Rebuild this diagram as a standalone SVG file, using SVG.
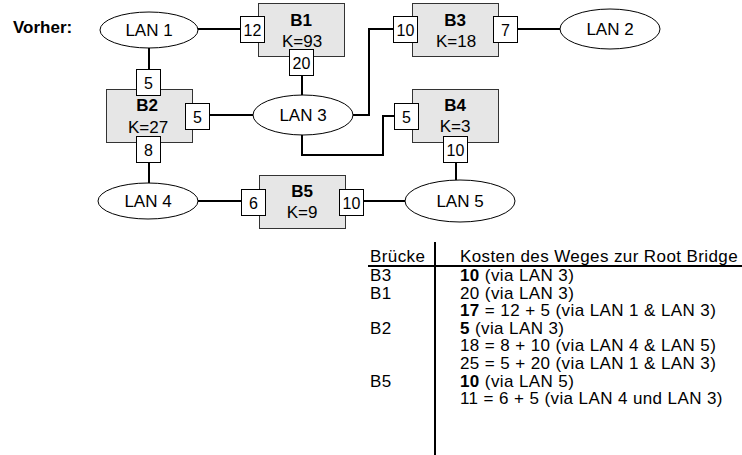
<svg xmlns="http://www.w3.org/2000/svg" width="742" height="455" viewBox="0 0 742 455">
<style>
text{font-family:"Liberation Sans",Arial,sans-serif;font-size:17px;fill:#000}
.b{font-weight:bold}
.c{text-anchor:middle}
.p{font-size:16px;text-anchor:middle}
.t{letter-spacing:0.4px}
.box{fill:#e6e6e6;stroke:#333;stroke-width:1}
.port{fill:#fff;stroke:#000;stroke-width:1}
.lan{fill:#fff;stroke:#000;stroke-width:1}
.w{fill:none;stroke:#000;stroke-width:2}
</style>
<rect width="742" height="455" fill="#fff"/>
<text class="b" x="13" y="33">Vorher:</text>
<g id="connectors">
<path class="w" d="M198,29H240"/>
<path class="w" d="M149,48V69"/>
<path class="w" d="M302,75V95"/>
<path class="w" d="M210,115H253"/>
<path class="w" d="M353,115H369V29H393"/>
<path class="w" d="M302,135V155H383V116H394"/>
<path class="w" d="M518,29H560"/>
<path class="w" d="M149,162V183"/>
<path class="w" d="M198,201H241"/>
<path class="w" d="M364,201H405"/>
<path class="w" d="M456,162V180"/>
</g>
<g id="lan1"><ellipse class="lan" cx="149" cy="30" rx="49" ry="18"/><text class="c" x="149" y="36">LAN 1</text></g>
<g id="lan2"><ellipse class="lan" cx="610" cy="29" rx="50" ry="20"/><text class="c" x="610" y="35">LAN 2</text></g>
<g id="lan3"><ellipse class="lan" cx="303" cy="115" rx="50" ry="20"/><text class="c" x="303" y="121">LAN 3</text></g>
<g id="lan4"><ellipse class="lan" cx="148" cy="201" rx="50" ry="18"/><text class="c" x="148" y="207">LAN 4</text></g>
<g id="lan5"><ellipse class="lan" cx="460" cy="201" rx="55" ry="21"/><text class="c" x="460" y="207">LAN 5</text></g>
<g id="b1">
<rect class="box" x="258.5" y="3.5" width="86" height="53"/>
<text class="b c" x="301" y="26">B1</text><text class="c" x="302" y="47">K=93</text>
<rect class="port" x="240.5" y="16.5" width="24" height="26"/><text class="p" x="252.5" y="36">12</text>
<rect class="port" x="289.5" y="49.5" width="24" height="26"/><text class="p" x="301.5" y="69">20</text>
</g>
<g id="b3">
<rect class="box" x="412.5" y="3.5" width="86" height="53"/>
<text class="b c" x="455" y="26">B3</text><text class="c" x="456" y="47">K=18</text>
<rect class="port" x="393.5" y="16.5" width="24" height="26"/><text class="p" x="405.5" y="36">10</text>
<rect class="port" x="493.5" y="16.5" width="24" height="26"/><text class="p" x="505.5" y="36">7</text>
</g>
<g id="b2">
<rect class="box" x="106.5" y="89.5" width="86" height="53"/>
<text class="b c" x="147" y="111">B2</text><text class="c" x="148" y="133">K=27</text>
<rect class="port" x="136.5" y="69.5" width="24" height="26"/><text class="p" x="148.5" y="89">5</text>
<rect class="port" x="185.5" y="103.5" width="24" height="26"/><text class="p" x="197.5" y="123">5</text>
<rect class="port" x="136.5" y="136.5" width="24" height="26"/><text class="p" x="148.5" y="156">8</text>
</g>
<g id="b4">
<rect class="box" x="412.5" y="89.5" width="86" height="53"/>
<text class="b c" x="455" y="111">B4</text><text class="c" x="455" y="132">K=3</text>
<rect class="port" x="394.5" y="103.5" width="24" height="26"/><text class="p" x="406.5" y="123">5</text>
<rect class="port" x="443.5" y="136.5" width="24" height="26"/><text class="p" x="455.5" y="156">10</text>
</g>
<g id="b5">
<rect class="box" x="259.5" y="175.5" width="86" height="53"/>
<text class="b c" x="302" y="197">B5</text><text class="c" x="302" y="218">K=9</text>
<rect class="port" x="241.5" y="189.5" width="24" height="26"/><text class="p" x="253.5" y="209">6</text>
<rect class="port" x="339.5" y="189.5" width="24" height="26"/><text class="p" x="351.5" y="209">10</text>
</g>
<g id="table">
<path class="w" d="M435,242V455M368,266H742"/>
<text class="t" x="370" y="262">Brücke</text>
<text class="t" x="460" y="262">Kosten des Weges zur Root Bridge</text>
<text class="t" x="370" y="281">B3</text>
<text class="t" x="460" y="281"><tspan class="b">10</tspan> (via LAN 3)</text>
<text class="t" x="370" y="298.6">B1</text>
<text class="t" x="460" y="298.6">20 (via LAN 3)</text>
<text class="t" x="460" y="316.2"><tspan class="b">17</tspan> = 12 + 5 (via LAN 1 &amp; LAN 3)</text>
<text class="t" x="370" y="333.8">B2</text>
<text class="t" x="460" y="333.8"><tspan class="b">5</tspan> (via LAN 3)</text>
<text class="t" x="460" y="351.4">18 = 8 + 10 (via LAN 4 &amp; LAN 5)</text>
<text class="t" x="460" y="369">25 = 5 + 20 (via LAN 1 &amp; LAN 3)</text>
<text class="t" x="370" y="386.6">B5</text>
<text class="t" x="460" y="386.6"><tspan class="b">10</tspan> (via LAN 5)</text>
<text class="t" x="460" y="404.2">11 = 6 + 5 (via LAN 4 und LAN 3)</text>
</g>
</svg>
